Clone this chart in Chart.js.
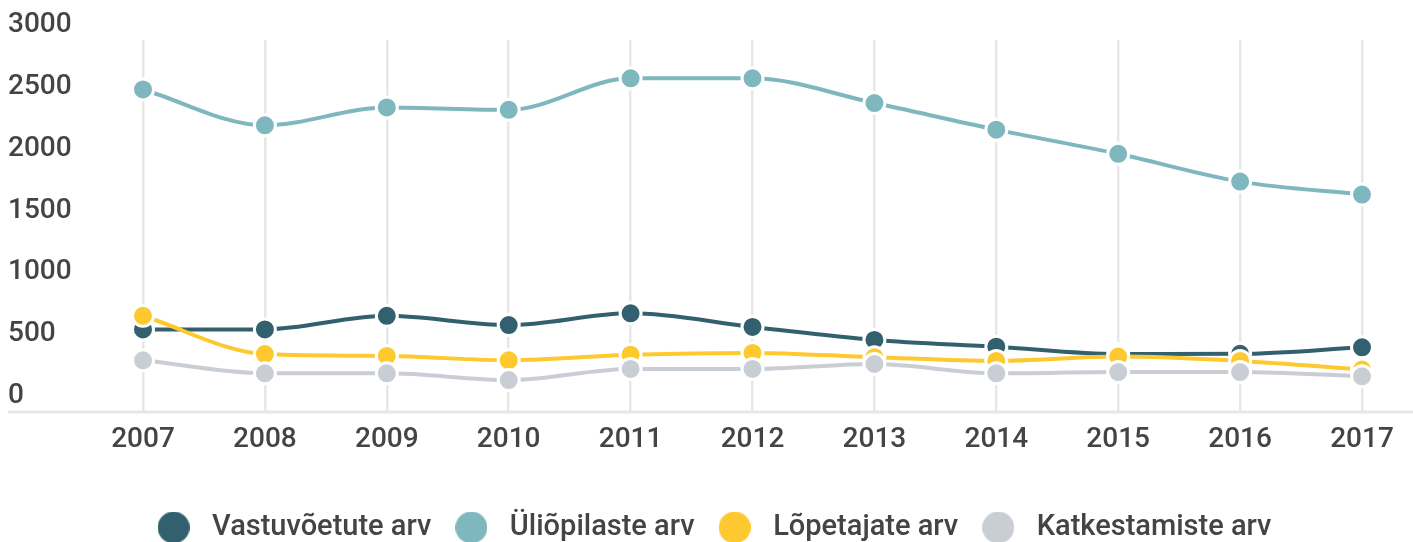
<!DOCTYPE html>
<html>
<head>
<meta charset="utf-8">
<script src="https://cdn.jsdelivr.net/npm/chart.js@4/dist/chart.umd.min.js"></script>
<style>
  html, body { margin: 0; padding: 0; background: #fff; overflow: hidden; }
  #wrap { width: 1413px; height: 552px; }
</style>
</head>
<body>
<div id="wrap"><canvas id="myChart"></canvas></div>
<script>
'use strict';

let years = ['2007', '2008', '2009', '2010', '2011', '2012', '2013', '2014', '2015', '2016', '2017'];
let yTicks = [0, 500, 1000, 1500, 2000, 2500, 3000];

let vastuvoetud = [660, 660, 770, 695, 790, 680, 575, 520, 460, 462, 515];
let uliopilased = [2600, 2310, 2455, 2435, 2690, 2690, 2490, 2275, 2080, 1855, 1750];
let lopetajad = [770, 460, 445, 410, 455, 470, 435, 405, 440, 405, 335];
let katkestajad = [410, 305, 305, 250, 340, 340, 380, 305, 315, 315, 280];

let names = ['Vastuvõetute arv', 'Üliõpilaste arv', 'Lõpetajate arv', 'Katkestamiste arv'];
let colors = ['#33606f', '#7fb7be', '#fec82f', '#c9ced5'];
let series = [vastuvoetud, uliopilased, lopetajad, katkestajad];

let textColor = '#444444';
let gridColor = '#e7e7e7';

Chart.defaults.font.family = 'Roboto';
Chart.defaults.font.size = 28;
Chart.defaults.font.weight = '500';
Chart.defaults.color = textColor;

// round legend markers
function legendDot(color) {
    let c = document.createElement('canvas');
    c.width = 32;
    c.height = 32;
    let g = c.getContext('2d');
    g.fillStyle = color;
    g.beginPath();
    g.arc(16, 16, 16, 0, Math.PI * 2);
    g.fill();
    return c;
}

let datasets = [];
for (let i = 0; i < series.length; i++) {
    datasets.push({
        label: names[i],
        data: series[i],
        borderColor: colors[i],
        backgroundColor: colors[i],
        borderWidth: 4,
        pointRadius: 10.5,
        pointHoverRadius: 10.5,
        pointBorderWidth: 3,
        pointBorderColor: '#fff',
        pointBackgroundColor: colors[i],
        cubicInterpolationMode: 'monotone',
        clip: false,
        order: series.length - i
    });
}

// light base line under the plot
let baseLine = {
    id: 'baseLine',
    beforeDatasetsDraw(chart) {
        let ctx = chart.ctx;
        let y = chart.scales.y.getPixelForValue(0) + 1;
        ctx.save();
        ctx.strokeStyle = gridColor;
        ctx.lineWidth = 3;
        ctx.beginPath();
        ctx.moveTo(8, y);
        ctx.lineTo(chart.width, y);
        ctx.stroke();
        ctx.restore();
    }
};

let ctx = document.getElementById('myChart').getContext('2d');

let myChart = new Chart(ctx, {
    type: 'line',
    data: {
        labels: years,
        datasets: datasets
    },
    plugins: [baseLine],
    options: {
        responsive: true,
        maintainAspectRatio: false,
        animation: false,
        events: [],
        layout: {
            padding: { left: 8, right: 0, top: 40, bottom: 0 }
        },
        scales: {
            x: {
                offset: false,
                grid: {
                    display: true,
                    color: gridColor,
                    lineWidth: 2.5,
                    drawTicks: false
                },
                border: { display: false },
                ticks: { padding: 12, maxRotation: 0 },
                afterFit(scale) { scale.height = 86; }
            },
            y: {
                min: 0,
                max: 3000,
                grid: { display: false },
                border: { display: false },
                afterBuildTicks(scale) {
                    scale.ticks = yTicks.map(v => ({ value: v }));
                },
                ticks: {
                    crossAlign: 'far',
                    labelOffset: -15,
                    callback: (value) => String(value)
                },
                afterFit(scale) { scale.width = 135; }
            },
            yRight: {
                position: 'right',
                display: true,
                grid: { display: false },
                border: { display: false },
                ticks: { display: false },
                afterFit(scale) { scale.width = 51; }
            }
        },
        plugins: {
            tooltip: { enabled: false },
            legend: {
                position: 'bottom',
                labels: {
                    usePointStyle: true,
                    pointStyleWidth: 48,
                    padding: 16,
                    font: { size: 29, weight: '500' },
                    color: textColor,
                    sort: (a, b) => a.datasetIndex - b.datasetIndex,
                    generateLabels(chart) {
                        let items = Chart.defaults.plugins.legend.labels.generateLabels(chart);
                        items.forEach(item => {
                            item.pointStyle = legendDot(colors[item.datasetIndex]);
                        });
                        return items;
                    }
                }
            }
        }
    }
});
</script>
</body>
</html>
